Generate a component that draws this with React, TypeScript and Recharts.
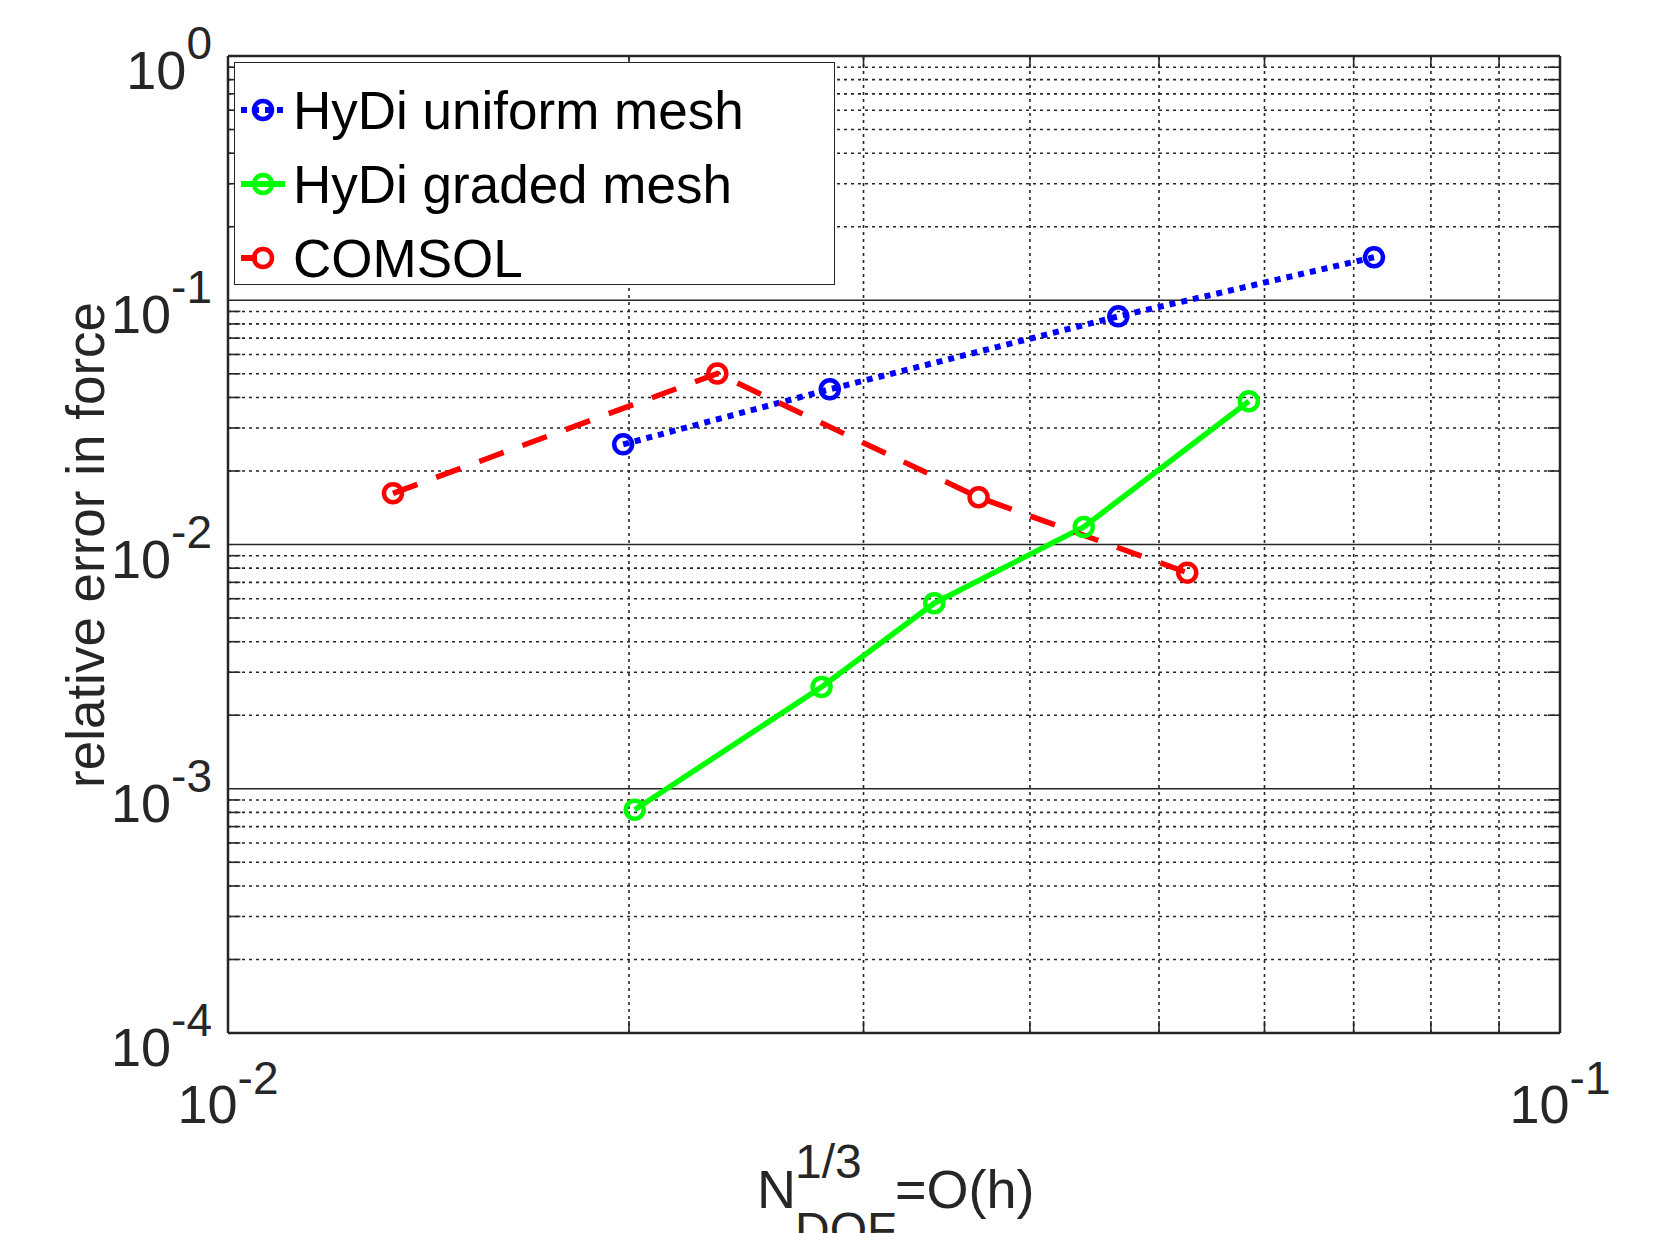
import React from "react";
import { LineChart, Line, XAxis, YAxis, ReferenceLine, Legend } from "recharts";

// N_DOF^(1/3) vs relative error
const uniformX = [0.0198, 0.0283, 0.0466, 0.0725];
const uniformY = [0.0257, 0.0432, 0.0859, 0.15];

const gradedX = [0.0202, 0.0279, 0.0339, 0.0439, 0.0584];
const gradedY = [0.00082, 0.00261, 0.00575, 0.0118, 0.0386];

const comsolX = [0.0133, 0.0233, 0.0366, 0.0525];
const comsolY = [0.0162, 0.0501, 0.0156, 0.00767];

const xTicks = [0.01, 0.1];
const yTicks = [1e-4, 1e-3, 1e-2, 1e-1, 1];
const yMajorGrid = [1e-3, 1e-2, 1e-1];
const xMinor = [0.02, 0.03, 0.04, 0.05, 0.06, 0.07, 0.08, 0.09];
const mantissas = [2, 3, 4, 5, 6, 7, 8, 9];
const yMinor = [1e-4, 1e-3, 1e-2, 1e-1].flatMap((d) => mantissas.map((m) => m * d));

const zip = (xs: number[], ys: number[]) => xs.map((x, i) => ({ x, y: ys[i] }));
const uniformData = zip(uniformX, uniformY);
const gradedData = zip(gradedX, gradedY);
const comsolData = zip(comsolX, comsolY);

const FONT = '"Liberation Sans", Arial, Helvetica, sans-serif';
const INK = "#262626";
const BLUE = "#0000ff";
const GREEN = "#00ff00";
const RED = "#ff0000";

const W = 1660;
const H = 1233;

const YTick = (props: any) => {
  const { x, y, payload } = props;
  const exp = Math.round(Math.log10(payload.value));
  return (
    <text x={x} y={y + 33} textAnchor="end" fill={INK} fontFamily={FONT} fontSize={54}>
      <tspan>10</tspan>
      <tspan dy={-30} fontSize={46}>
        {String(exp)}
      </tspan>
    </text>
  );
};

const XTick = (props: any) => {
  const { x, y, payload } = props;
  const exp = Math.round(Math.log10(payload.value));
  return (
    <text x={x} y={y + 90} textAnchor="middle" fill={INK} fontFamily={FONT} fontSize={54}>
      <tspan>10</tspan>
      <tspan dy={-29} fontSize={46}>
        {String(exp)}
      </tspan>
    </text>
  );
};

const YLabel = () => (
  <text
    x={104}
    y={545}
    transform="rotate(-90 104 545)"
    textAnchor="middle"
    fill={INK}
    fontFamily={FONT}
    fontSize={53}
  >
    relative error in force
  </text>
);

// the DOF subscript runs off the bottom edge, as in the original figure
const XLabel = () => (
  <text fill={INK} fontFamily={FONT} fontSize={54}>
    <tspan x={757} y={1208}>N</tspan>
    <tspan x={795} y={1178} fontSize={48}>1/3</tspan>
    <tspan x={795} y={1246} fontSize={48}>DOF</tspan>
    <tspan x={895} y={1208}>=O(h)</tspan>
  </text>
);

const legendItems = [
  { label: "HyDi uniform mesh", color: BLUE, dash: "6 6" },
  { label: "HyDi graded mesh", color: GREEN, dash: undefined },
  { label: "COMSOL", color: RED, dash: "16 30" },
];

const LegendBox = () => (
  <div
    style={{
      position: "relative",
      width: 601,
      height: 223,
      boxSizing: "border-box",
      border: `1.5px solid ${INK}`,
      background: "#fff",
    }}
  >
    {legendItems.map((it, i) => (
      <div
        key={it.label}
        style={{
          position: "absolute",
          left: 6,
          top: 10 + i * 74,
          height: 74,
          display: "flex",
          alignItems: "center",
        }}
      >
        <svg width={48} height={28} style={{ display: "block" }}>
          <line
            x1={0}
            y1={14}
            x2={44}
            y2={14}
            stroke={it.color}
            strokeWidth={6}
            strokeDasharray={it.dash}
          />
          <circle cx={22} cy={14} r={9} fill="none" stroke={it.color} strokeWidth={4.5} />
        </svg>
        <span
          style={{
            marginLeft: 4,
            fontFamily: FONT,
            fontSize: 53,
            lineHeight: 1,
            color: "#000",
            whiteSpace: "nowrap",
          }}
        >
          {it.label}
        </span>
      </div>
    ))}
  </div>
);

const dotted = { stroke: INK, strokeWidth: 1.6, strokeDasharray: "3 4" };
const solid = { stroke: INK, strokeWidth: 1.6 };
const tickSeg = { stroke: INK, strokeWidth: 1.6 };
const tx = 1.0216; // ~12px along x
const ty = 1.12; // ~12px along y

const dotStyle = (c: string) => ({ r: 9, stroke: c, strokeWidth: 4.5, fill: "none", strokeDasharray: "0" });

export default function App() {
  return (
    <div style={{ position: "absolute", left: 0, top: 0, width: W, height: H, background: "#fff" }}>
      <LineChart width={W} height={H} margin={{ top: 56, right: 100, left: 0, bottom: 0 }}>
        <XAxis
          type="number"
          dataKey="x"
          scale="log"
          domain={[0.01, 0.1]}
          ticks={xTicks}
          allowDataOverflow
          height={200}
          tickSize={0}
          tickMargin={0}
          tickLine={false}
          axisLine={{ stroke: INK, strokeWidth: 2.5 }}
          tick={<XTick />}
          label={<XLabel />}
        />
        <YAxis
          type="number"
          dataKey="y"
          scale="log"
          domain={[1e-4, 1]}
          ticks={yTicks}
          allowDataOverflow
          width={228}
          tickSize={0}
          tickMargin={16}
          tickLine={false}
          axisLine={{ stroke: INK, strokeWidth: 2.5 }}
          tick={<YTick />}
          label={<YLabel />}
        />

        {yMinor.map((v) => (
          <ReferenceLine key={`hy${v}`} y={v} {...dotted} />
        ))}
        {xMinor.map((v) => (
          <ReferenceLine key={`vx${v}`} x={v} {...dotted} />
        ))}
        {yMajorGrid.map((v) => (
          <ReferenceLine key={`my${v}`} y={v} {...solid} />
        ))}
        <ReferenceLine y={1} stroke={INK} strokeWidth={2.5} />
        <ReferenceLine x={0.1} stroke={INK} strokeWidth={2.5} />

        {yMinor.map((v) => (
          <ReferenceLine key={`tl${v}`} segment={[{ x: 0.01, y: v }, { x: 0.01 * tx, y: v }]} {...tickSeg} />
        ))}
        {yMinor.map((v) => (
          <ReferenceLine key={`tr${v}`} segment={[{ x: 0.1 / tx, y: v }, { x: 0.1, y: v }]} {...tickSeg} />
        ))}
        {xMinor.map((v) => (
          <ReferenceLine key={`tb${v}`} segment={[{ x: v, y: 1e-4 }, { x: v, y: 1e-4 * ty }]} {...tickSeg} />
        ))}
        {xMinor.map((v) => (
          <ReferenceLine key={`tt${v}`} segment={[{ x: v, y: 1 / ty }, { x: v, y: 1 }]} {...tickSeg} />
        ))}

        <Line
          data={uniformData}
          dataKey="y"
          name="HyDi uniform mesh"
          stroke={BLUE}
          strokeWidth={6}
          strokeDasharray="6 6"
          dot={dotStyle(BLUE)}
          isAnimationActive={false}
        />
        <Line
          data={gradedData}
          dataKey="y"
          name="HyDi graded mesh"
          stroke={GREEN}
          strokeWidth={5.5}
          dot={dotStyle(GREEN)}
          isAnimationActive={false}
        />
        <Line
          data={comsolData}
          dataKey="y"
          name="COMSOL"
          stroke={RED}
          strokeWidth={5.5}
          strokeDasharray="26 20"
          dot={dotStyle(RED)}
          isAnimationActive={false}
        />

        <Legend
          layout="vertical"
          align="center"
          verticalAlign="middle"
          wrapperStyle={{ position: "absolute", left: 234, top: 62, width: 601, height: 223 }}
          content={() => <LegendBox />}
        />
      </LineChart>
    </div>
  );
}
